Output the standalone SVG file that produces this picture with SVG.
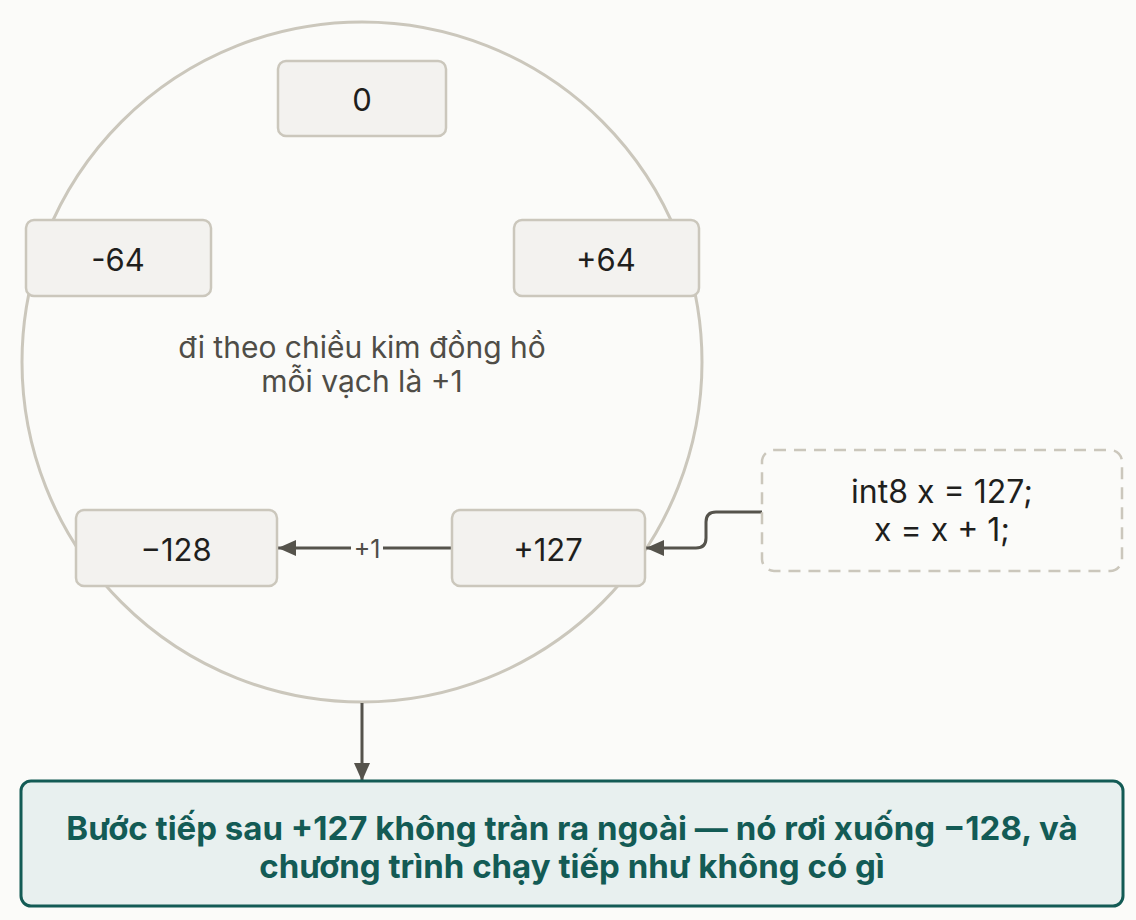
<svg xmlns="http://www.w3.org/2000/svg" width="1136" height="920" viewBox="0 0 1136 920">
<style>
.node{fill:#f3f2ef;stroke:#cbc7bc;stroke-width:2.5}
.lbl{font-family:Inter,"Noto Sans",sans-serif;font-size:31px;fill:#1f1f1d;text-anchor:middle;dominant-baseline:central}
.note{font-family:Inter,"Noto Sans",sans-serif;font-size:30px;fill:#4f4d47;text-anchor:middle}
.code{font-family:Inter,"Noto Sans",sans-serif;font-size:32px;fill:#1f1f1d;text-anchor:middle}
.edge{fill:none;stroke:#55534c;stroke-width:3}
.res{font-family:Inter,"Noto Sans",sans-serif;font-size:33px;font-weight:700;fill:#135b55;text-anchor:middle}
</style>
<defs>
<marker id="ah2" viewBox="0 0 18 16" refX="18" refY="8" markerWidth="18" markerHeight="16" markerUnits="userSpaceOnUse" orient="auto">
<path d="M0,0 L18,8 L0,16 z" fill="#55534c"/>
</marker>
</defs>
<rect width="1136" height="920" fill="#fbfbf9"/>
<g id="ring">
<circle cx="362" cy="362" r="340" fill="none" stroke="#cbc7bc" stroke-width="3"/>
</g>
<g id="connectors">
<line class="edge" x1="452" y1="548" x2="278" y2="548" marker-end="url(#ah2)"/>
<rect x="351" y="534" width="32" height="28" fill="#fbfbf9"/>
<text x="367" y="549" font-family="Inter,'Noto Sans',sans-serif" font-size="25" fill="#4f4d47" text-anchor="middle" dominant-baseline="central">+1</text>
<path class="edge" d="M762,512 H716 Q706,512 706,522 V538 Q706,548 696,548 H646" marker-end="url(#ah2)"/>
<path class="edge" d="M362,703 L362,781" marker-end="url(#ah2)"/>
</g>
<g id="n0"><rect class="node" x="278" y="61" width="168" height="75" rx="8"/><text class="lbl" x="362" y="99">0</text></g>
<g id="nm64"><rect class="node" x="26" y="220" width="185" height="76" rx="8"/><text class="lbl" x="118" y="259" font-family="'DejaVu Sans',sans-serif" font-size="32">-64</text></g>
<g id="np64"><rect class="node" x="514" y="220" width="185" height="76" rx="8"/><text class="lbl" x="606" y="259">+64</text></g>
<g id="nm128"><rect class="node" x="76" y="510" width="201" height="76" rx="8"/><text class="lbl" x="176" y="549">−128</text></g>
<g id="np127"><rect class="node" x="452" y="510" width="193" height="76" rx="8"/><text class="lbl" x="548" y="549">+127</text></g>
<g id="hint">
<text class="note" x="362" y="358">đi theo chiều kim đồng hồ</text>
<text class="note" x="362" y="392">mỗi vạch là +1</text>
</g>
<g id="code">
<rect x="762" y="450" width="360" height="121" rx="12" fill="#fbfbf9" stroke="#cbc7bc" stroke-width="2.5" stroke-dasharray="12 8"/>
<text class="code" x="942" y="503">int8 x = 127;</text>
<text class="code" x="942" y="541">x = x + 1;</text>
</g>
<g id="result">
<rect x="21" y="781" width="1102" height="125" rx="10" fill="#e8f0ef" stroke="#135b55" stroke-width="3"/>
<text class="res" x="572" y="840">Bước tiếp sau +127 không tràn ra ngoài — nó rơi xuống −128, và</text>
<text class="res" x="572" y="878">chương trình chạy tiếp như không có gì</text>
</g>
</svg>
